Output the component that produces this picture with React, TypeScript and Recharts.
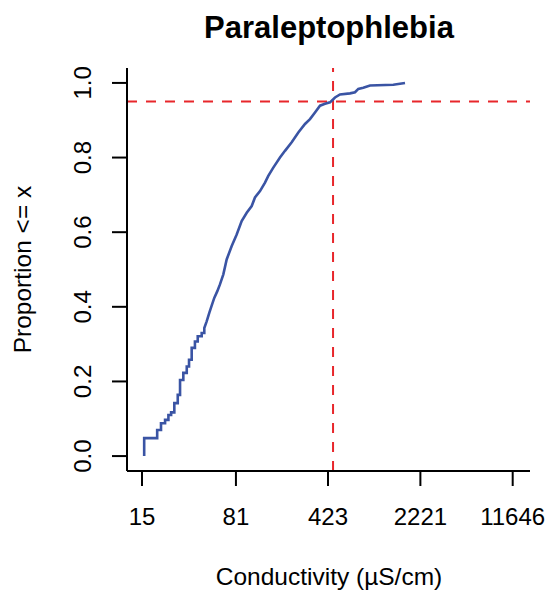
import { LineChart, Line, XAxis, YAxis, ReferenceLine, Label } from 'recharts'

// ECDF of conductivity at sites with Paraleptophlebia
const conductivity = [
  15.6, 15.6, 19.7, 19.7, 21.1, 21.1, 22.7, 22.7, 24.1, 24.1, 25.3, 25.3,
  26.8, 26.8, 28.5, 28.5, 29.7, 29.7, 31.5, 31.5, 33.5, 33.5, 34.9, 34.9,
  36.6, 36.6, 38.8, 38.8, 40.8, 40.8, 43.8, 43.8, 45.9, 45.9,
  47.9, 50.2, 52.4, 54.9, 58.0, 60.8, 64.6, 68.6, 75.1, 82.1, 89.8, 98.3,
  107.5, 114.0, 124.8, 136.5, 144.8, 158.4, 178.6, 195.4, 220.4, 248.2,
  279.9, 306.2, 334.9, 366.4, 400.8, 438.5, 479.6, 524.7, 627.9, 686.8,
  728.8, 797.2, 898.9, 1365.6, 1685,
]
const proportion = [
  0, 0.048, 0.048, 0.07, 0.07, 0.088, 0.088, 0.097, 0.097, 0.11, 0.11, 0.117,
  0.117, 0.142, 0.142, 0.164, 0.164, 0.204, 0.204, 0.223, 0.223, 0.24, 0.24, 0.258,
  0.258, 0.29, 0.29, 0.307, 0.307, 0.321, 0.321, 0.33, 0.33, 0.343,
  0.361, 0.384, 0.403, 0.424, 0.442, 0.46, 0.487, 0.527, 0.563, 0.594, 0.63, 0.652,
  0.67, 0.693, 0.71, 0.733, 0.751, 0.773, 0.8, 0.818, 0.841, 0.867,
  0.89, 0.903, 0.921, 0.939, 0.944, 0.948, 0.961, 0.969, 0.972, 0.975,
  0.984, 0.987, 0.993, 0.995, 1.0,
]
const xTicks = [15, 81, 423, 2221, 11646]
const yTicks = [0, 0.2, 0.4, 0.6, 0.8, 1.0]
const xc95 = 463
const p95 = 0.95

const data = conductivity.map((c, i) => ({ c, p: proportion[i] }))

const font = '"Liberation Sans", Arial, sans-serif'

const YTick = (props: any) => {
  const { x, y, payload } = props
  return (
    <text
      x={x}
      y={y}
      transform={`rotate(-90, ${x}, ${y})`}
      textAnchor="middle"
      fontSize={24}
      fontFamily={font}
      fill="#000"
    >
      {Number(payload.value).toFixed(1)}
    </text>
  )
}

export default function App() {
  return (
    <div style={{ position: 'absolute', left: 0, top: 0, width: 554, height: 593, background: '#fff' }}>
      <div
        style={{
          position: 'absolute',
          left: 129,
          top: 12,
          width: 400,
          textAlign: 'center',
          fontFamily: font,
          fontWeight: 'bold',
          fontSize: 31,
          lineHeight: '31px',
          color: '#000',
        }}
      >
        Paraleptophlebia
      </div>
      <LineChart width={554} height={593} data={data} margin={{ top: 68, right: 24, left: 67, bottom: 0 }}>
        <XAxis
          dataKey="c"
          type="number"
          scale="log"
          domain={[11.46, 15890]}
          allowDataOverflow
          ticks={xTicks}
          interval={0}
          height={122}
          tickSize={15}
          tickMargin={22}
          axisLine={{ stroke: '#000', strokeWidth: 2 }}
          tickLine={{ stroke: '#000', strokeWidth: 2 }}
          tick={{ fontSize: 24, fill: '#000', fontFamily: font }}
        >
          <Label
            content={() => (
              <text x={329} y={585} textAnchor="middle" fontSize={24.5} fontFamily={font} fill="#000">
                Conductivity (µS/cm)
              </text>
            )}
          />
        </XAxis>
        <YAxis
          type="number"
          domain={[-0.04, 1.04]}
          allowDataOverflow
          ticks={yTicks}
          interval={0}
          width={60}
          tickSize={15}
          tickMargin={21}
          axisLine={{ stroke: '#000', strokeWidth: 2 }}
          tickLine={{ stroke: '#000', strokeWidth: 2 }}
          tick={<YTick />}
        >
          <Label
            content={() => (
              <text
                x={31}
                y={269.5}
                transform="rotate(-90, 31, 269.5)"
                textAnchor="middle"
                fontSize={24.5}
                fontFamily={font}
                fill="#000"
              >
                {'Proportion <= x'}
              </text>
            )}
          />
        </YAxis>
        <ReferenceLine y={p95} stroke="#e8262b" strokeWidth={2} strokeDasharray="10 9" />
        <ReferenceLine x={xc95} stroke="#e8262b" strokeWidth={2} strokeDasharray="10 9" />
        <Line
          type="linear"
          dataKey="p"
          stroke="#3a54a4"
          strokeWidth={2.6}
          dot={false}
          isAnimationActive={false}
        />
      </LineChart>
    </div>
  )
}
